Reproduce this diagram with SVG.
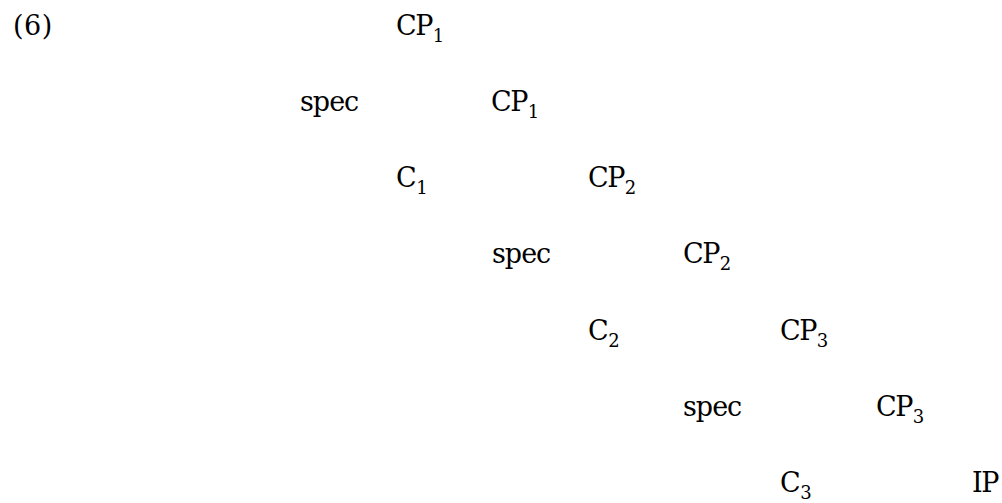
<svg xmlns="http://www.w3.org/2000/svg" width="1002" height="503" viewBox="0 0 1002 503">
  <style>
    text { font-family: "DejaVu Serif", "Liberation Serif", serif; font-size: 27px; fill: #000; }
    .cat { letter-spacing: -1.5px; }
    .sub { font-size: 18px; letter-spacing: 0; }
    .num { letter-spacing: 0.5px; }
    .word { letter-spacing: -1px; }
  </style>
  <rect width="1002" height="503" fill="#ffffff"/>
  <!-- example number -->
  <g id="label-6"><text class="num" x="13" y="35">(6)</text></g>
  <!-- tree labels: columns 96px apart, rows 76px apart -->
  <g id="cp1-top"><text class="cat" x="396" y="35">CP<tspan class="sub" dx="1" dy="7">1</tspan></text></g>
  <g id="spec1"><text class="word" x="300" y="111">spec</text></g>
  <g id="cp1-bar"><text class="cat" x="491" y="111">CP<tspan class="sub" dx="1" dy="7">1</tspan></text></g>
  <g id="c1"><text class="cat" x="396" y="187">C<tspan class="sub" dx="1" dy="7">1</tspan></text></g>
  <g id="cp2-top"><text class="cat" x="588" y="187">CP<tspan class="sub" dx="1" dy="7">2</tspan></text></g>
  <g id="spec2"><text class="word" x="492" y="263">spec</text></g>
  <g id="cp2-bar"><text class="cat" x="683" y="263">CP<tspan class="sub" dx="1" dy="7">2</tspan></text></g>
  <g id="c2"><text class="cat" x="588" y="340">C<tspan class="sub" dx="1" dy="7">2</tspan></text></g>
  <g id="cp3-top"><text class="cat" x="780" y="340">CP<tspan class="sub" dx="1" dy="7">3</tspan></text></g>
  <g id="spec3"><text class="word" x="683" y="416">spec</text></g>
  <g id="cp3-bar"><text class="cat" x="876" y="416">CP<tspan class="sub" dx="1" dy="7">3</tspan></text></g>
  <g id="c3"><text class="cat" x="780" y="492">C<tspan class="sub" dx="1" dy="7">3</tspan></text></g>
  <g id="ip"><text class="cat" x="972" y="492">IP</text></g>
</svg>
